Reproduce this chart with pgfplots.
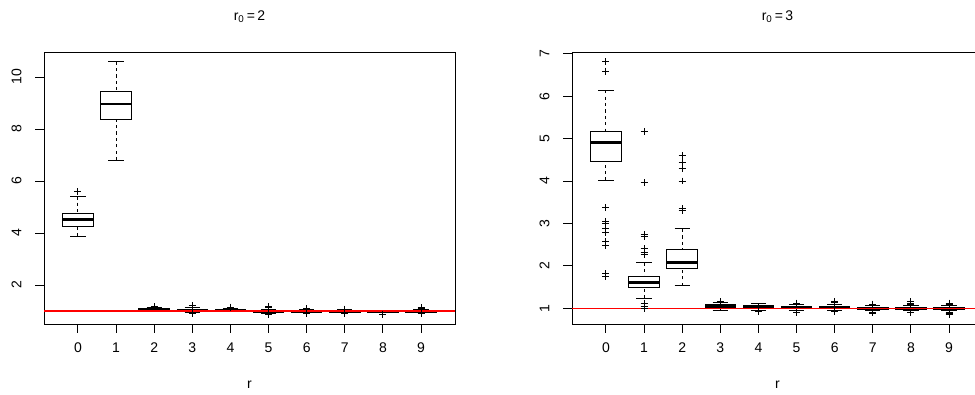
\documentclass[border=0pt]{standalone}
\usepackage{fontspec}
\setmainfont{Liberation Sans}
\usepackage{pgfplots}
\pgfplotsset{compat=1.18}
\usepgfplotslibrary{statistics}

\pgfplotsset{
  rbox/.style={
    black, line width=0.7pt,
    mark=+, mark size=2.6pt, mark options={solid,line width=0.7pt},
    boxplot/draw direction=y,
    boxplot/box extend=0.8,
    boxplot/whisker extend=0.4,
    boxplot/every median/.style={line width=2.1pt},
    boxplot/draw/lower whisker/.code={%
      \draw[dash pattern=on 2.4pt off 2.4pt]
        (boxplot box cs:\pgfplotsboxplotvalue{lower whisker},0.5)
        -- (boxplot box cs:\pgfplotsboxplotvalue{lower quartile},0.5);
      \draw (boxplot whisker cs:\pgfplotsboxplotvalue{lower whisker},0)
        -- (boxplot whisker cs:\pgfplotsboxplotvalue{lower whisker},1);
    },
    boxplot/draw/upper whisker/.code={%
      \draw[dash pattern=on 2.4pt off 2.4pt]
        (boxplot box cs:\pgfplotsboxplotvalue{upper whisker},0.5)
        -- (boxplot box cs:\pgfplotsboxplotvalue{upper quartile},0.5);
      \draw (boxplot whisker cs:\pgfplotsboxplotvalue{upper whisker},0)
        -- (boxplot whisker cs:\pgfplotsboxplotvalue{upper whisker},1);
    },
  },
  rpanel/.style={
    scale only axis, width=308.25pt, height=204pt,
    anchor=south west,
    xmin=-0.89, xmax=9.89,
    xtick={0,...,9},
    xtick pos=lower, ytick pos=left,
    tick align=outside,
    major tick length=6.5pt,
    axis line style={line width=0.7pt},
    every tick/.style={black, line width=0.7pt},
    /pgf/number format/assume math mode=true,
    tick label style={font=\fontsize{10.5}{12}\selectfont},
    xticklabel style={anchor=base, yshift=-14.5pt},
    yticklabel style={rotate=90, anchor=base, yshift=10.5pt},
    xlabel={r},
    xlabel style={font=\fontsize{10.5}{12}\selectfont, at={(0.5,0)}, anchor=base, yshift=-48pt},
    title style={font=\fontsize{10.5}{12}\selectfont, at={(0.5,1)}, anchor=base, yshift=18pt},
  },
  refline/.style={draw=red, line width=0.95pt, forget plot, mark=none},
}

\newcommand{\RB}[7]{%
  \addplot[rbox, boxplot prepared={draw position=#1, lower whisker=#2,
    lower quartile=#3, median=#4, upper quartile=#5, upper whisker=#6}]
    table[row sep=\\, y index=0] {y\\ #7};
}

\begin{document}
\begin{tikzpicture}
% ---------- left panel: r0 = 2 ----------
\begin{axis}[rpanel, at={(33pt,52.5pt)},
  ymin=0.5, ymax=10.96, ytick={2,4,6,8,10},
  title={r\textsubscript{0}\,=\,2}]
\RB{0}{3.87}{4.27}{4.53}{4.74}{5.41}{5.58\\}
\RB{1}{6.80}{8.35}{8.96}{9.46}{10.59}{}
\RB{2}{1.00}{1.02}{1.05}{1.08}{1.12}{1.17\\}
\RB{3}{0.94}{0.97}{1.01}{1.05}{1.12}{1.20\\ 0.89\\}
\RB{4}{0.97}{0.99}{1.03}{1.06}{1.10}{1.15\\}
\RB{5}{0.92}{0.95}{0.98}{1.01}{1.06}{1.17\\ 1.12\\ 0.88\\ 0.90\\}
\RB{6}{0.93}{0.96}{0.99}{1.01}{1.05}{1.08\\ 0.90\\}
\RB{7}{0.93}{0.96}{0.99}{1.01}{1.05}{1.07\\ 0.90\\}
\RB{8}{0.93}{0.95}{0.98}{1.00}{1.03}{0.88\\ 0.86\\}
\RB{9}{0.94}{0.96}{0.99}{1.02}{1.06}{1.12\\ 1.08\\ 0.92\\}
\addplot[refline] coordinates {(-0.89,1) (9.89,1)};
\end{axis}
% ---------- right panel: r0 = 3 ----------
\begin{axis}[rpanel, at={(429pt,52.5pt)},
  ymin=0.63, ymax=7.04, ytick={1,2,3,4,5,6,7},
  title={r\textsubscript{0}\,=\,3}]
\RB{0}{4.01}{4.46}{4.91}{5.16}{6.14}{6.81\\ 6.59\\ 3.37\\ 3.05\\ 3.00\\ 2.88\\ 2.78\\ 2.57\\ 2.47\\ 1.81\\ 1.74\\}
\RB{1}{1.24}{1.49}{1.60}{1.74}{2.07}{5.16\\ 3.96\\ 2.73\\ 2.70\\ 2.41\\ 2.32\\ 2.27\\ 1.12\\ 1.04\\ 1.00\\}
\RB{2}{1.53}{1.94}{2.07}{2.39}{2.87}{4.59\\ 4.44\\ 4.29\\ 4.00\\ 3.35\\ 3.31\\}
\RB{3}{0.94}{1.02}{1.05}{1.08}{1.13}{1.15\\}
\RB{4}{0.95}{1.01}{1.05}{1.07}{1.12}{0.92\\}
\RB{5}{0.95}{0.99}{1.02}{1.05}{1.09}{1.12\\ 0.90\\}
\RB{6}{0.95}{0.99}{1.01}{1.04}{1.08}{1.10\\ 1.13\\ 1.15\\ 0.92\\}
\RB{7}{0.95}{0.98}{1.00}{1.03}{1.06}{1.08\\ 1.10\\ 0.91\\ 0.89\\}
\RB{8}{0.95}{0.98}{1.00}{1.03}{1.06}{1.09\\ 1.12\\ 1.15\\ 0.90\\}
\RB{9}{0.94}{0.98}{1.00}{1.03}{1.07}{1.10\\ 1.12\\ 0.90\\ 0.87\\ 0.85\\}
\addplot[refline] coordinates {(-0.89,1) (9.89,1)};
\end{axis}
\pgfresetboundingbox
\useasboundingbox (0,0) rectangle (731.25pt,295.5pt);
\end{tikzpicture}
\end{document}
